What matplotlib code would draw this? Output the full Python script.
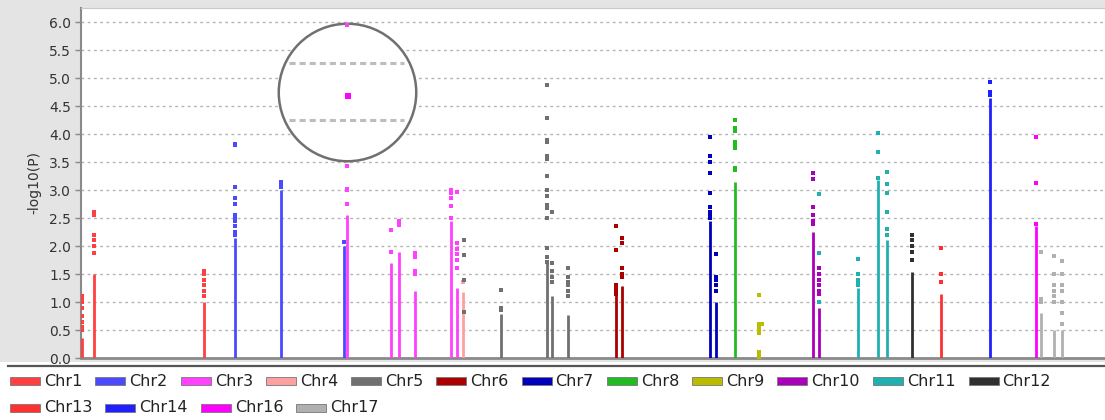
import matplotlib
matplotlib.use("Agg")
import matplotlib.pyplot as plt
from matplotlib.lines import Line2D
from matplotlib.patches import Rectangle

W, H = 1105, 420

CHROMS = ["Chr1", "Chr2", "Chr3", "Chr4", "Chr5", "Chr6", "Chr7", "Chr8",
          "Chr9", "Chr10", "Chr11", "Chr12", "Chr13", "Chr14", "Chr16", "Chr17"]
COLORS = ["#ff4040", "#4a4aff", "#ff40ff", "#ffa0a0", "#707070", "#aa0000",
          "#0000bb", "#22bb22", "#bbbb00", "#aa00bb", "#20b0b0", "#303030",
          "#ff3030", "#2020ff", "#ff00ff", "#b0b0b0"]

# one entry per marker column: chromosome, position, top of the dense run, loose points
COL_CHR = ["Chr1", "Chr1", "Chr1", "Chr2", "Chr2", "Chr2", "Chr3", "Chr3", "Chr3",
           "Chr3", "Chr3", "Chr3", "Chr4", "Chr5", "Chr5", "Chr5", "Chr5", "Chr5",
           "Chr6", "Chr6", "Chr7", "Chr7", "Chr8", "Chr9", "Chr9", "Chr10", "Chr10",
           "Chr11", "Chr11", "Chr11", "Chr11", "Chr12", "Chr13", "Chr14", "Chr16",
           "Chr17", "Chr17", "Chr17"]
COL_POS = [0.5, 12.5, 123, 154, 199.5, 263, 265.5, 310, 317.5, 334, 369.7, 375.7,
           382.3, 383, 420, 466.3, 470.7, 487.3, 534.7, 540.7, 629, 634.7, 654,
           678, 681, 731.7, 737.7, 738, 776.7, 797.3, 806.3, 831.3, 859.7, 909,
           955, 959.7, 973, 980.7]
COL_TOP = [0.35, 1.5, 1.0, 2.15, 3.0, 2.0, 2.55, 1.7, 1.9, 1.2, 2.45, 1.25, 1.18,
           0.0, 0.79, 1.7, 1.11, 0.76, 1.12, 1.28, 2.45, 1.0, 3.15, 0.0, 0.0, 2.25,
           0.9, 0.0, 1.25, 3.17, 2.1, 1.54, 1.15, 4.65, 2.35, 0.8, 0.5, 0.5]
COL_PTS = [
    [0.5, 0.55, 0.65, 0.75, 0.9, 1.0, 1.05, 1.1],
    [1.87, 2.0, 2.1, 2.2, 2.55, 2.6],
    [1.1, 1.2, 1.3, 1.4, 1.5, 1.55],
    [2.2, 2.25, 2.35, 2.45, 2.5, 2.55, 2.75, 2.85, 3.05, 3.8, 3.82],
    [3.05, 3.1, 3.15],
    [2.08],
    [2.75, 3.0, 3.02, 3.42, 5.95],
    [1.9, 2.29],
    [2.37, 2.45],
    [1.5, 1.55, 1.8, 1.87],
    [2.5, 2.72, 2.85, 2.95, 3.0],
    [1.6, 1.75, 1.85, 1.95, 2.06, 2.97],
    [1.36],
    [0.82, 1.4, 1.84, 2.1],
    [0.85, 0.9, 1.21],
    [1.72, 1.8, 1.97, 2.5, 2.68, 2.74, 2.9, 3.0, 3.25, 3.55, 3.6, 3.85, 3.9, 4.29, 4.88],
    [1.35, 1.45, 1.55, 1.7, 2.61],
    [1.1, 1.2, 1.3, 1.35, 1.45, 1.61],
    [1.15, 1.2, 1.25, 1.3, 1.93, 2.36],
    [1.45, 1.5, 1.6, 2.05, 2.15],
    [2.5, 2.55, 2.6, 2.7, 2.95, 3.3, 3.5, 3.6, 3.95],
    [1.2, 1.3, 1.4, 1.45, 1.85],
    [3.35, 3.4, 3.75, 3.8, 3.85, 4.05, 4.1, 4.25],
    [0.0, 0.05, 0.1, 0.45, 0.5, 0.55, 0.6, 1.12],
    [0.6],
    [2.4, 2.45, 2.55, 2.7, 3.2, 3.3],
    [1.15, 1.2, 1.3, 1.4, 1.5, 1.6],
    [1.0, 1.88, 2.92],
    [1.3, 1.35, 1.4, 1.5, 1.77],
    [3.22, 3.68, 4.01],
    [2.2, 2.3, 2.6, 2.95, 3.1, 3.33],
    [1.75, 1.9, 2.0, 2.1, 2.2],
    [1.35, 1.5, 1.96],
    [4.7, 4.75, 4.93],
    [2.4, 3.12, 3.94],
    [1.0, 1.05, 1.9],
    [1.0, 1.1, 1.2, 1.3, 1.5, 1.83],
    [0.6, 0.8, 1.0, 1.2, 1.3, 1.5, 1.73],
]

# magnifier lens drawn over the top Chr3 hit
LENS_POS, LENS_Y = 266, 4.75
LENS_LINES = [5.27, 4.25]
LENS_HIT = (267, 4.67)

color_of = dict(zip(CHROMS, COLORS))

fig = plt.figure(figsize=(W / 100, H / 100), dpi=100, facecolor="white")
fig.patches.append(Rectangle((0, 1 - 362 / H), 1, 362 / H, transform=fig.transFigure,
                             facecolor="#e4e4e4", edgecolor="none", zorder=-5))
fig.add_artist(Line2D([8 / W, 1], [1 - 365.5 / H] * 2, color="#555555", lw=1.6))

ax = fig.add_axes([81 / W, 1 - 358 / H, 1024 / W, 350 / H])
ax.set_zorder(1)
ax.set_facecolor("white")
ax.set_xlim(0, 1024)
ax.set_ylim(0, 6.25)
ax.set_yticks([i * 0.5 for i in range(13)])
ax.set_yticklabels([f"{i * 0.5:.1f}" for i in range(13)])
ax.set_xticks([])
ax.tick_params(axis="y", length=4, width=1, color="#888888", labelsize=10,
               labelcolor="#333333", pad=3)
ax.grid(axis="y", color="#b4b4b4", linestyle=(0, (2, 2.5)), linewidth=1)
ax.set_axisbelow(True)
ax.set_ylabel("-log10(P)", fontsize=10, color="#333333", labelpad=6)
ax.spines["right"].set_visible(False)
ax.spines["top"].set_color("#c8c8c8")
ax.spines["left"].set_color("#8a8a8a")
ax.spines["left"].set_linewidth(1.5)
ax.spines["bottom"].set_color("#8a8a8a")
ax.spines["bottom"].set_linewidth(2)

for chrom, pos, top, pts in zip(COL_CHR, COL_POS, COL_TOP, COL_PTS):
    c = color_of[chrom]
    if top > 0:
        ax.vlines(pos, 0, top, color=c, lw=2.0, zorder=7)
    ax.scatter([pos] * len(pts), pts, marker="s", s=6, color=c, linewidths=0, zorder=7)

# lens
ax.scatter([LENS_POS], [LENS_Y], marker="o", s=99 ** 2, facecolor="white",
           edgecolor="#707070", linewidths=1.8, zorder=5)
for y in LENS_LINES:
    ax.plot([208, 323], [y, y], color="#bdbdbd", lw=2.2, linestyle=(0, (2.0, 1.3)), zorder=6)
ax.scatter([LENS_HIT[0]], [LENS_HIT[1]], marker="s", s=19, color="#ff00ff",
           linewidths=0, zorder=7)

# legend, laid out left to right like the original flow layout
renderer = fig.canvas.get_renderer()
rows = [CHROMS[:12], CHROMS[12:]]
row_y = [381, 408]
for names, py in zip(rows, row_y):
    px = 10
    for name in names:
        c = color_of[name]
        fig.patches.append(Rectangle((px / W, 1 - (py + 4) / H), 30 / W, 8 / H,
                                     transform=fig.transFigure, facecolor=c,
                                     edgecolor="#777777", lw=0.6))
        t = fig.text((px + 34) / W, 1 - py / H, name, fontsize=11.5, color="#222222",
                     ha="left", va="center")
        tw = t.get_window_extent(renderer).width
        px = px + 34 + tw + 13

fig.savefig("out.png", dpi=100)
